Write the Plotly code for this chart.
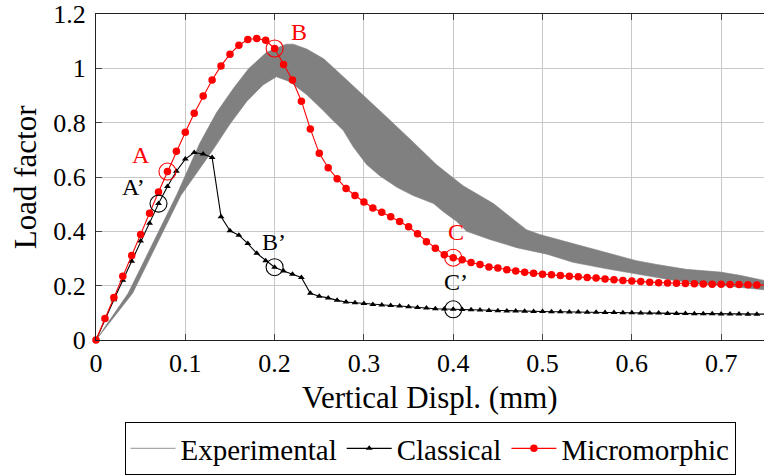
import plotly.graph_objects as go

# ---------------- data ----------------
disp = [round(i * 0.01, 2) for i in range(76)]  # 0 .. 0.75 mm

micromorphic = [
    0.000, 0.079, 0.156, 0.235, 0.311, 0.388, 0.467, 0.545, 0.620, 0.695,
    0.765, 0.835, 0.898, 0.957, 1.009, 1.052, 1.085, 1.106, 1.110, 1.103,
    1.073, 1.014, 0.957, 0.879, 0.777, 0.687, 0.634, 0.594, 0.558, 0.532,
    0.508, 0.486, 0.470, 0.454, 0.436, 0.417, 0.391, 0.362, 0.338, 0.314,
    0.303, 0.295, 0.285, 0.278, 0.269, 0.265, 0.259, 0.254, 0.249, 0.246,
    0.242, 0.240, 0.237, 0.235, 0.233, 0.230, 0.228, 0.225, 0.222, 0.219,
    0.217, 0.215, 0.213, 0.211, 0.210, 0.209, 0.208, 0.207, 0.206, 0.2055,
    0.205, 0.2045, 0.204, 0.203, 0.2025, 0.202,
]

classical = [
    0.000, 0.077, 0.148, 0.220, 0.290, 0.364, 0.430, 0.502, 0.565, 0.621,
    0.666, 0.690, 0.685, 0.672, 0.454, 0.402, 0.386, 0.355, 0.319, 0.292,
    0.268, 0.254, 0.242, 0.230, 0.172, 0.161, 0.155, 0.146, 0.140, 0.137,
    0.134, 0.131, 0.129, 0.127, 0.125, 0.122, 0.120, 0.118, 0.115, 0.114,
    0.113, 0.112, 0.111, 0.110, 0.109, 0.108, 0.107, 0.107, 0.106, 0.105,
    0.105, 0.104, 0.104, 0.103, 0.103, 0.102, 0.102, 0.101, 0.101, 0.100,
    0.100, 0.099, 0.099, 0.099, 0.098, 0.098, 0.098, 0.097, 0.097, 0.097,
    0.096, 0.096, 0.096, 0.095, 0.095, 0.095,
]

exp_upper_x = [0.0, 0.036, 0.090, 0.116, 0.135, 0.154, 0.171, 0.191, 0.213,
               0.221, 0.236, 0.255, 0.279, 0.299, 0.326, 0.355, 0.381, 0.411,
               0.445, 0.482, 0.497, 0.534, 0.572, 0.605, 0.628, 0.661, 0.699,
               0.721, 0.75]
exp_upper_y = [0.0, 0.172, 0.532, 0.723, 0.837, 0.927, 0.999, 1.059, 1.089,
               1.089, 1.071, 1.035, 0.963, 0.903, 0.819, 0.729, 0.646, 0.568,
               0.502, 0.406, 0.388, 0.355, 0.322, 0.292, 0.278, 0.260, 0.250,
               0.238, 0.218]

exp_lower_x = [0.0, 0.041, 0.095, 0.131, 0.150, 0.169, 0.187, 0.202, 0.217,
               0.236, 0.255, 0.262, 0.277, 0.288, 0.303, 0.318, 0.337, 0.355,
               0.378, 0.389, 0.404, 0.415, 0.441, 0.471, 0.505, 0.534, 0.572,
               0.605, 0.646, 0.676, 0.706, 0.75]
exp_lower_y = [0.0, 0.172, 0.532, 0.700, 0.795, 0.879, 0.939, 0.969, 0.951,
               0.903, 0.843, 0.819, 0.771, 0.711, 0.646, 0.604, 0.562, 0.532,
               0.502, 0.472, 0.436, 0.400, 0.370, 0.340, 0.316, 0.286, 0.262,
               0.242, 0.220, 0.208, 0.199, 0.184]

# marked states: (label, displacement)
marks_micro = [("A", 0.08), ("B", 0.20), ("C", 0.40)]
marks_class = [("A\u2019", 0.07), ("B\u2019", 0.20), ("C\u2019", 0.40)]

series_names = ["Experimental", "Classical", "Micromorphic"]

# ---------------- styles ----------------
FONT = "Liberation Serif"
RED = "#ff0000"
label_shift = {"A": (-26, 17), "B": (24, 17), "C": (3, 26),
               "A\u2019": (-25, 17), "B\u2019": (-1, 25), "C\u2019": (3, 27)}

fig = go.Figure()

# experimental band
band_x = exp_upper_x + exp_lower_x[::-1]
band_y = exp_upper_y + exp_lower_y[::-1]
fig.add_trace(go.Scatter(x=band_x, y=band_y, mode="lines", fill="toself",
                         fillcolor="#808080", line=dict(color="#808080", width=0.6),
                         showlegend=False, hoverinfo="skip"))
# legend entry for experimental
fig.add_trace(go.Scatter(x=[None], y=[None], mode="lines", name=series_names[0],
                         line=dict(color="#a8a8a8", width=1.2)))

fig.add_trace(go.Scatter(x=disp, y=classical, mode="lines+markers", name=series_names[1],
                         line=dict(color="black", width=1.1),
                         marker=dict(symbol="triangle-up", size=6, color="black"),
                         cliponaxis=False))
fig.add_trace(go.Scatter(x=disp, y=micromorphic, mode="lines+markers", name=series_names[2],
                         line=dict(color=RED, width=1.1),
                         marker=dict(symbol="circle", size=7.5, color=RED),
                         cliponaxis=False))

annotations = []
for marks, ser, col in [(marks_micro, micromorphic, RED), (marks_class, classical, "black")]:
    xs, ys = [], []
    for lab, xv in marks:
        yv = ser[disp.index(xv)]
        xs.append(xv)
        ys.append(yv)
        dx, dy = label_shift[lab]
        annotations.append(dict(x=xv, y=yv, xref="x", yref="y", text=lab, showarrow=False,
                                xshift=dx, yshift=dy,
                                font=dict(family=FONT, size=24, color=col)))
    fig.add_trace(go.Scatter(x=xs, y=ys, mode="markers", showlegend=False,
                             marker=dict(symbol="circle-open", size=17,
                                         line=dict(color=col, width=1.1), color=col),
                             cliponaxis=False, hoverinfo="skip"))

# axis titles
annotations.append(dict(text="Vertical Displ. (mm)", xref="paper", yref="paper",
                        x=0.5, y=-0.1766, xanchor="center", yanchor="middle",
                        showarrow=False, font=dict(family=FONT, size=31, color="black")))
annotations.append(dict(text="Load factor", xref="paper", yref="paper",
                        x=-0.106, y=0.5, xanchor="center", yanchor="middle", textangle=-90,
                        showarrow=False, font=dict(family=FONT, size=31, color="black")))

fig.update_layout(
    width=764, height=475,
    margin=dict(l=96, r=0, t=14, b=127),
    paper_bgcolor="white", plot_bgcolor="white",
    showlegend=True,
    legend=dict(orientation="h", x=0.5, xanchor="center", y=-0.2515, yanchor="top",
                bgcolor="white", bordercolor="black", borderwidth=1,
                font=dict(family=FONT, size=29, color="black"),
                itemwidth=45, traceorder="normal"),
    annotations=annotations,
)
fig.update_xaxes(range=[0, 0.748], dtick=0.1, tick0=0, showgrid=True, gridcolor="#c8c8c8",
                 gridwidth=1, zeroline=False, showline=True, linecolor="#222222", linewidth=1,
                 mirror="allticks", ticks="inside", ticklen=6, tickcolor="#444444",
                 tickfont=dict(family=FONT, size=26, color="black"))
fig.update_yaxes(range=[0, 1.2], dtick=0.2, tick0=0, showgrid=True, gridcolor="#c8c8c8",
                 gridwidth=1, zeroline=False, showline=True, linecolor="#222222", linewidth=1,
                 ticks="inside", ticklen=6, tickcolor="#444444", ticklabelstandoff=4,
                 tickfont=dict(family=FONT, size=26, color="black"))

fig.write_html("out.html")
